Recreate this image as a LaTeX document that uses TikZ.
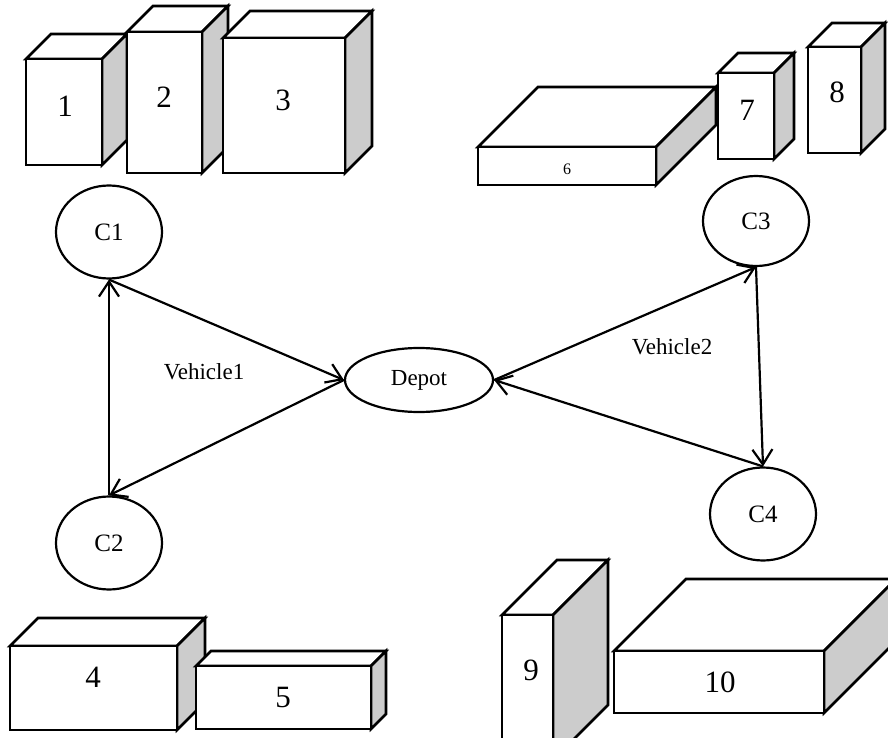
\documentclass[tikz,border=0pt]{standalone}
\usepackage{fontspec}
\setmainfont{Liberation Serif}
\usetikzlibrary{shapes.geometric,arrows.meta}
\definecolor{sidegray}{RGB}{204,204,204}

% cuboid: #1 label name, #2/#3 front top-left, #4/#5 front bottom-right,
% #6 depth, #7/#8 label position, #9 label text
\newcommand\crate[9]{%
  \filldraw[boxedge,fill=white] (#2,#3) -- (#2+#6,#3-#6) -- (#4+#6,#3-#6) -- (#4,#3) -- cycle;
  \filldraw[boxedge,fill=sidegray] (#4,#3) -- (#4+#6,#3-#6) -- (#4+#6,#5-#6) -- (#4,#5) -- cycle;
  \filldraw[boxedge,fill=white] (#2,#3) rectangle (#4,#5);
  \node[boxlabel] (#1) at (#7,#8) {#9};
}

\tikzset{
  boxedge/.style={line width=2.6pt},
  boxlabel/.style={inner sep=0pt, font=\fontsize{31}{35}\selectfont},
  stop/.style={ellipse, draw, line width=2.2pt, inner sep=0pt,
               font=\fontsize{25}{29}\selectfont},
  route/.style={line width=2.2pt, -{Straight Barb[length=15pt,width=20pt,line width=2.2pt]}},
  tag/.style={inner sep=0pt, font=\fontsize{23}{27}\selectfont}
}

\begin{document}
\begin{tikzpicture}[x=1pt,y=-1pt]
  \useasboundingbox (0,0) rectangle (888,738);
  \clip (0,0) rectangle (888,738);

  % goods near customer C1
  \crate{b1}{26}{59}{102}{165}{25}{65}{106}{1}
  \crate{b2}{127}{32}{202}{173}{26}{164}{97}{2}
  \crate{b3}{223}{38}{345}{173}{27}{283}{100}{3}

  % goods near customer C3
  \crate{b6}{478}{147}{656}{185}{60}{567}{169}{\fontsize{16}{18}\selectfont 6}
  \crate{b7}{718}{73}{774}{159}{20}{747}{110}{7}
  \crate{b8}{808}{47}{861}{153}{24}{837}{92}{8}

  % goods near customer C2
  \crate{b4}{10}{646}{177}{730}{28}{93}{677}{4}
  \crate{b5}{196}{666}{371}{729}{15}{283}{697}{5}

  % goods near customer C4
  \crate{b9}{502}{615}{553}{760}{55}{531}{670}{9}
  \crate{b10}{614}{651}{824}{713}{72}{720}{682}{10}

  % customers and depot
  \node[stop, minimum width=106pt, minimum height=93pt] (c1) at (109,232) {C1};
  \node[stop, minimum width=106pt, minimum height=93pt] (c2) at (109,543) {C2};
  \node[stop, minimum width=106pt, minimum height=90pt] (c3) at (756,221) {C3};
  \node[stop, minimum width=106pt, minimum height=93pt] (c4) at (763,514) {C4};
  \node[stop, minimum width=148pt, minimum height=64pt,
        font=\fontsize{23}{27}\selectfont] (depot) at (419,380) {Depot};

  % vehicle tours
  \draw[route] (c1.south) -- (depot.west);
  \draw[route] (depot.west) -- (c2.north);
  \draw[route] (c2.north) -- (c1.south);

  \draw[route] (depot.east) -- (c3.south);
  \draw[route] (c3.south) -- (c4.north);
  \draw[route] (c4.north) -- (depot.east);

  \node[tag] (v1) at (204,372) {Vehicle1};
  \node[tag] (v2) at (672,347) {Vehicle2};
\end{tikzpicture}
\end{document}
